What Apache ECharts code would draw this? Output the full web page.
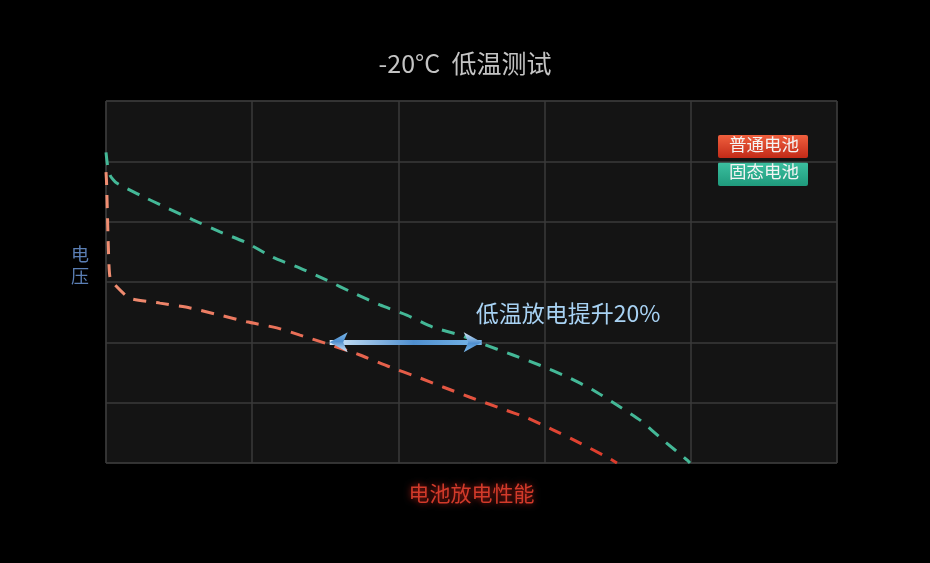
<!DOCTYPE html>
<html><head><meta charset="utf-8">
<script src="https://cdn.jsdelivr.net/npm/echarts@6/dist/echarts.min.js"></script>
<style>html,body{margin:0;padding:0;background:#000;}#c{width:930px;height:563px;}</style>
</head><body><div id="c"></div>
<script>
var titleText = '-20°C  低温测试';
var xName = '电池放电性能';
var yName = '电压';
var legendNames = ['普通电池', '固态电池'];
var annotation = '低温放电提升20%';
var annotationAt = [3.16, 2.49];
var arrowY = 2.0;
var arrowFrom = 1.53;
var arrowTo = 2.57;

var solidX = [0, 0.01, 0.03, 0.073, 0.233, 0.415, 0.595, 0.78, 0.962, 1.14, 1.327, 1.51, 1.69, 1.874, 2.057, 2.237, 2.42, 2.558, 2.784, 2.968, 3.153, 3.331, 3.495, 3.653, 3.81, 3.974, 3.994];
var solidY = [5.15, 4.95, 4.76, 4.64, 4.44, 4.23, 4.03, 3.83, 3.65, 3.41, 3.23, 3.03, 2.82, 2.62, 2.45, 2.25, 2.12, 1.99, 1.79, 1.62, 1.43, 1.21, 0.96, 0.71, 0.38, 0.05, 0];

var normalX = [0, 0.004, 0.016, 0.027, 0.062, 0.164, 0.369, 0.575, 0.78, 0.962, 1.168, 1.327, 1.532, 1.737, 1.943, 2.125, 2.305, 2.49, 2.695, 2.878, 3.057, 3.242, 3.425, 3.495];
var normalY = [4.82, 4.64, 3.58, 3.08, 2.95, 2.73, 2.65, 2.57, 2.45, 2.34, 2.24, 2.12, 1.96, 1.79, 1.59, 1.43, 1.26, 1.09, 0.91, 0.75, 0.55, 0.33, 0.1, 0];

function pairs(xs, ys){ return xs.map(function(x,i){ return [x, ys[i]]; }); }

var chart = echarts.init(document.getElementById('c'));
var font = '"Noto Sans CJK SC", "Noto Sans", sans-serif';
chart.setOption({
  backgroundColor: '#000',
  animation: false,
  title: {
    text: titleText, left: 'center', top: 46,
    textStyle: { color: '#c4c4c4', fontSize: 25, fontWeight: 'normal', fontFamily: font }
  },
  grid: { left: 106, top: 101, width: 731, height: 362, show: true, backgroundColor: '#141414', borderColor: '#3a3a3a', borderWidth: 1 },
  xAxis: {
    type: 'value', min: 0, max: 5, interval: 1,
    name: xName, nameLocation: 'middle', nameGap: 20,
    nameTextStyle: { color: '#d23a2a', fontSize: 21, fontFamily: font, textShadowColor: 'rgba(220,40,30,0.8)', textShadowBlur: 6 },
    axisLine: { show: false }, axisTick: { show: false }, axisLabel: { show: false },
    splitLine: { show: true, lineStyle: { color: '#3a3a3a', width: 1.5 } }
  },
  yAxis: {
    type: 'value', min: 0, max: 6, interval: 1,
    axisLine: { show: false }, axisTick: { show: false }, axisLabel: { show: false },
    splitLine: { show: true, lineStyle: { color: '#3a3a3a', width: 1.5 } }
  },
  series: [
    {
      name: legendNames[0], type: 'line', showSymbol: false, smooth: 0.2,
      data: pairs(normalX, normalY),
      lineStyle: { width: 3, type: [13, 10],
        color: new echarts.graphic.LinearGradient(0, 0, 1, 0, [{offset: 0, color: '#f08e72'}, {offset: 1, color: '#dd3a2a'}]) },
      markLine: {
        silent: true, symbol: ['arrow', 'arrow'], symbolSize: [15, 18],
        label: { show: false },
        lineStyle: { type: 'solid', width: 5,
          color: new echarts.graphic.LinearGradient(0, 0, 1, 0, [{offset: 0, color: '#d6eafa'}, {offset: 0.55, color: '#4f8fcf'}, {offset: 1, color: '#7ab8ea'}]) },
        data: [[{ coord: [arrowFrom, arrowY] }, { coord: [arrowTo, arrowY] }]]
      },
      markPoint: {
        silent: true, symbol: 'rect', symbolSize: 1, itemStyle: { color: 'transparent' },
        label: { show: true, formatter: annotation, color: '#a8d2f3', fontSize: 23, fontFamily: font, position: 'inside' },
        data: [{ coord: annotationAt }]
      }
    },
    {
      name: legendNames[1], type: 'line', showSymbol: false, smooth: 0.2,
      data: pairs(solidX, solidY),
      lineStyle: { width: 3, type: [13, 10], color: '#44b897' }
    }
  ],
  graphic: [
    { type: 'text', left: 71, top: 243, style: { text: yName.split('').join('\n'), fill: '#5b7fb5', fontSize: 18, lineHeight: 22, fontFamily: font } },
    { type: 'rect', left: 718, top: 135, shape: { width: 90, height: 23, r: 2 },
      style: { fill: new echarts.graphic.LinearGradient(0, 0, 0, 1, [{offset: 0, color: '#f0603e'}, {offset: 1, color: '#c22a18'}]) } },
    { type: 'text', left: 729, top: 136, style: { text: legendNames[0], fill: '#f4f4f4', fontSize: 17.5, fontFamily: font } },
    { type: 'rect', left: 718, top: 162, shape: { width: 90, height: 24, r: 2 },
      style: { fill: new echarts.graphic.LinearGradient(0, 0, 0, 1, [{offset: 0, color: '#3cc0a0'}, {offset: 1, color: '#1f9a7c'}]) } },
    { type: 'text', left: 729, top: 163, style: { text: legendNames[1], fill: '#f4f4f4', fontSize: 17.5, fontFamily: font } }
  ]
});
</script></body></html>
